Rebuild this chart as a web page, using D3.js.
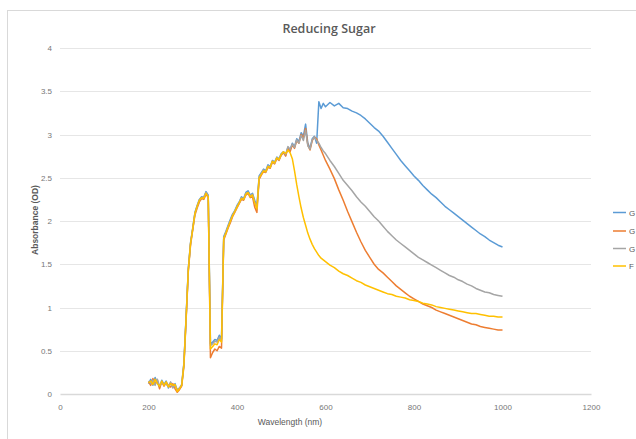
<!DOCTYPE html>
<html>
<head>
<meta charset="utf-8">
<script src="https://cdn.jsdelivr.net/npm/d3@7/dist/d3.min.js"></script>
<style>
  html, body { margin: 0; padding: 0; background: #fff; }
  svg { display: block; }
</style>
</head>
<body>
<svg id="chart" width="636" height="439"></svg>
<script>
// ---- data ----
const wavelengths = [
  200,205,210,215,220,225,230,235,240,245,250,255,260,265,270,275,280,285,290,295,
  300,305,310,315,320,325,330,335,340,345,350,355,360,365,370,375,380,385,390,395,
  400,405,410,415,420,425,430,435,440,445,450,455,460,465,470,475,480,485,490,495,
  500,505,510,515,520,525,530,535,540,545,550,555,560,565,570,575,580,585,590,595,
  600,610,620,630,640,650,660,670,680,690,700,710,720,730,740,750,760,770,780,790,
  800,810,820,830,840,850,860,870,880,890,900,910,920,930,940,950,960,970,980,990,1000
];
const seriesNames = ["G", "G", "G", "F"];
const blueValues = [
  0.12,0.17,0.10,0.19,0.13,0.08,0.16,0.11,0.15,0.07,0.13,0.09,0.12,0.04,0.06,0.10,0.35,0.90,1.45,1.75,
  1.92,2.10,2.18,2.25,2.28,2.27,2.34,2.30,0.58,0.60,0.63,0.62,0.68,0.64,1.82,1.88,1.95,2.02,2.08,2.12,
  2.18,2.22,2.28,2.26,2.33,2.35,2.30,2.32,2.24,2.17,2.52,2.56,2.60,2.58,2.65,2.63,2.70,2.68,2.74,2.72,
  2.78,2.80,2.76,2.85,2.82,2.90,2.86,2.95,2.92,3.02,2.98,3.12,2.90,2.84,2.95,2.98,2.90,3.38,3.30,3.36,
  3.32,3.37,3.33,3.36,3.31,3.30,3.27,3.25,3.22,3.18,3.13,3.08,3.04,2.98,2.91,2.84,2.77,2.70,2.64,2.58,
  2.52,2.47,2.41,2.36,2.31,2.27,2.22,2.17,2.13,2.09,2.05,2.01,1.97,1.93,1.89,1.85,1.82,1.78,1.75,1.72,1.70
];
const orangeValues = [
  0.14,0.10,0.18,0.12,0.16,0.06,0.14,0.09,0.13,0.10,0.08,0.12,0.06,0.02,0.05,0.09,0.32,0.86,1.42,1.72,
  1.90,2.07,2.15,2.22,2.26,2.25,2.31,2.27,0.42,0.48,0.52,0.50,0.55,0.53,1.78,1.85,1.92,1.98,2.05,2.10,
  2.15,2.20,2.25,2.24,2.30,2.32,2.27,2.28,2.16,2.10,2.48,2.53,2.57,2.56,2.62,2.61,2.68,2.66,2.72,2.70,
  2.76,2.79,2.75,2.84,2.80,2.88,2.84,2.93,2.90,3.00,2.96,3.07,2.88,2.82,2.93,2.97,2.95,2.88,2.82,2.76,
  2.70,2.60,2.49,2.36,2.24,2.11,1.99,1.87,1.76,1.66,1.58,1.50,1.44,1.40,1.35,1.30,1.25,1.21,1.17,1.13,
  1.10,1.07,1.04,1.02,1.00,0.97,0.95,0.93,0.91,0.89,0.87,0.85,0.83,0.81,0.80,0.78,0.77,0.76,0.75,0.74,0.74
];
const grayValues = [
  0.15,0.12,0.16,0.10,0.17,0.09,0.13,0.12,0.11,0.09,0.14,0.07,0.10,0.05,0.07,0.11,0.36,0.88,1.44,1.74,
  1.91,2.09,2.17,2.24,2.27,2.28,2.33,2.29,0.56,0.58,0.61,0.60,0.66,0.62,1.80,1.87,1.94,2.00,2.07,2.11,
  2.17,2.21,2.27,2.25,2.32,2.33,2.29,2.31,2.22,2.15,2.50,2.55,2.59,2.57,2.64,2.62,2.69,2.67,2.73,2.71,
  2.77,2.80,2.77,2.86,2.83,2.89,2.85,2.94,2.90,2.99,2.93,3.05,2.87,2.83,2.94,2.97,2.93,2.90,2.85,2.81,
  2.78,2.70,2.63,2.55,2.47,2.41,2.35,2.28,2.22,2.17,2.11,2.05,2.00,1.94,1.88,1.83,1.78,1.74,1.70,1.66,
  1.62,1.58,1.55,1.52,1.49,1.46,1.43,1.40,1.37,1.35,1.32,1.30,1.27,1.25,1.22,1.20,1.18,1.17,1.15,1.14,1.13
];
const yellowValues = [
  0.13,0.15,0.11,0.17,0.12,0.09,0.15,0.10,0.14,0.08,0.12,0.10,0.11,0.03,0.06,0.10,0.34,0.88,1.44,1.74,
  1.91,2.09,2.17,2.24,2.27,2.26,2.32,2.28,0.52,0.55,0.58,0.57,0.63,0.60,1.80,1.86,1.93,2.00,2.06,2.11,
  2.16,2.21,2.26,2.25,2.31,2.33,2.28,2.30,2.21,2.14,2.50,2.54,2.58,2.57,2.63,2.62,2.69,2.67,2.73,2.71,
  2.77,2.80,2.78,2.82,2.79,2.72,2.58,2.42,2.28,2.15,2.04,1.95,1.86,1.79,1.73,1.68,1.64,1.60,1.57,1.55,
  1.53,1.49,1.46,1.42,1.39,1.37,1.34,1.31,1.29,1.26,1.24,1.22,1.20,1.18,1.16,1.15,1.13,1.12,1.11,1.09,
  1.08,1.07,1.05,1.04,1.03,1.01,1.00,0.99,0.98,0.97,0.96,0.95,0.94,0.93,0.93,0.92,0.91,0.90,0.90,0.89,0.89
];
const seriesColors = ["#5B9BD5", "#ED7D31", "#A5A5A5", "#FFC000"];
const xTicks = [0, 200, 400, 600, 800, 1000, 1200];
const yTicks = [0, 0.5, 1, 1.5, 2, 2.5, 3, 3.5, 4];

// ---- chart ----
const svg = d3.select("#chart");
const plot = { left: 60, right: 591, top: 48, bottom: 394 };

// outer frame
svg.append("rect")
  .attr("x", 7.5).attr("y", 10.5).attr("width", 700).attr("height", 500)
  .attr("fill", "none").attr("stroke", "#d9d9d9").attr("stroke-width", 1);

const x = d3.scaleLinear().domain([0, 1200]).range([plot.left, plot.right]);
const y = d3.scaleLinear().domain([0, 4]).range([plot.bottom, plot.top]);

// gridlines
svg.append("g")
  .selectAll("line")
  .data(yTicks.filter(d => d > 0))
  .join("line")
  .attr("x1", plot.left).attr("x2", plot.right)
  .attr("y1", d => Math.round(y(d)) + 0.5).attr("y2", d => Math.round(y(d)) + 0.5)
  .attr("stroke", "#e6e6e6").attr("stroke-width", 1);

// y axis labels
const yAxis = d3.axisLeft(y).tickValues(yTicks).tickSize(0).tickPadding(8)
  .tickFormat(d => String(d));
const gy = svg.append("g").attr("transform", `translate(${plot.left},0)`).call(yAxis);
gy.select(".domain").remove();
gy.selectAll("text")
  .attr("font-family", "Liberation Sans, Arial, sans-serif")
  .attr("font-size", 8).attr("fill", "#777");

// x axis
const xAxis = d3.axisBottom(x).tickValues(xTicks).tickSize(0).tickPadding(10)
  .tickFormat(d => String(d));
const gx = svg.append("g").attr("transform", `translate(0,${plot.bottom})`).call(xAxis);
gx.select(".domain").attr("stroke", "#d9d9d9").attr("stroke-width", 1.5);
gx.selectAll("text")
  .attr("font-family", "Liberation Sans, Arial, sans-serif")
  .attr("font-size", 8).attr("fill", "#777");

// series lines
const allSeries = [blueValues, orangeValues, grayValues, yellowValues];
const line = d3.line()
  .x((d, i) => x(wavelengths[i]))
  .y(d => y(d));
allSeries.forEach((vals, k) => {
  svg.append("path")
    .datum(vals)
    .attr("d", line)
    .attr("fill", "none")
    .attr("stroke", seriesColors[k])
    .attr("stroke-width", 1.5)
    .attr("stroke-linejoin", "round");
});

// title
svg.append("text")
  .attr("x", 329).attr("y", 33)
  .attr("text-anchor", "middle")
  .attr("font-family", "Open Sans, Liberation Sans, sans-serif")
  .attr("font-weight", "600")
  .attr("font-size", 12.5)
  .attr("fill", "#595959")
  .text("Reducing Sugar");

// axis titles
svg.append("text")
  .attr("transform", "translate(38,220) rotate(-90)")
  .attr("text-anchor", "middle")
  .attr("font-family", "Liberation Sans, Arial, sans-serif")
  .attr("font-weight", "bold")
  .attr("font-size", 8.5)
  .attr("fill", "#595959")
  .text("Absorbance (OD)");

svg.append("text")
  .attr("x", 290).attr("y", 425)
  .attr("text-anchor", "middle")
  .attr("font-family", "Liberation Sans, Arial, sans-serif")
  .attr("font-size", 8.5)
  .attr("fill", "#595959")
  .text("Wavelength (nm)");

// legend
const legendY = [212.5, 231, 248.5, 266];
const lg = svg.append("g");
seriesNames.forEach((name, k) => {
  lg.append("line")
    .attr("x1", 613).attr("x2", 626)
    .attr("y1", legendY[k]).attr("y2", legendY[k])
    .attr("stroke", seriesColors[k]).attr("stroke-width", 1.5);
  lg.append("text")
    .attr("x", 629).attr("y", legendY[k] + 3)
    .attr("font-family", "Liberation Sans, Arial, sans-serif")
    .attr("font-size", 8)
    .attr("fill", "#595959")
    .text(name);
});
</script>
</body>
</html>
